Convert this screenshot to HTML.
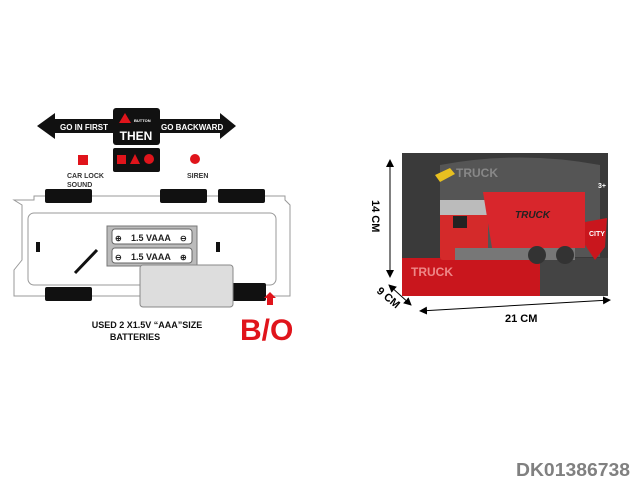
<!DOCTYPE html>
<html><head><style>body{margin:0;background:#fff}svg{display:block}text{font-family:"Liberation Sans",sans-serif;font-weight:bold}</style></head><body>
<svg width="640" height="480" viewBox="0 0 640 480">
<defs><marker id="a" markerWidth="8" markerHeight="8" refX="7" refY="4" orient="auto"><path d="M0,0L8,4L0,8z" fill="#000"/></marker>
<marker id="b" markerWidth="8" markerHeight="8" refX="1" refY="4" orient="auto"><path d="M8,0L0,4L8,8z" fill="#000"/></marker></defs>
<polygon points="37,126 55,113 55,119 220,119 220,113 236,126 220,139 220,133 55,133 55,139" fill="#111"/>
<text x="60" y="130" font-size="8" fill="#fff">GO IN FIRST</text>
<text x="161" y="130" font-size="8" fill="#fff">GO BACKWARD</text>
<rect x="113" y="108" width="47" height="37" rx="3" fill="#111"/>
<polygon points="125,113 131,123 119,123" fill="#e0141b"/>
<text x="134" y="122" font-size="4" fill="#fff">BUTTON</text>
<text x="136" y="140" font-size="12" fill="#fff" text-anchor="middle">THEN</text>
<rect x="113" y="148" width="47" height="24" rx="2" fill="#111"/>
<rect x="117" y="155" width="9" height="9" fill="#e0141b"/>
<polygon points="135,154 140,164 130,164" fill="#e0141b"/>
<circle cx="149" cy="159" r="5" fill="#e0141b"/>
<rect x="78" y="155" width="10" height="10" fill="#e0141b"/>
<circle cx="195" cy="159" r="5" fill="#e0141b"/>
<text x="67" y="178" font-size="7" fill="#333">CAR LOCK</text>
<text x="67" y="187" font-size="7" fill="#333">SOUND</text>
<text x="187" y="178" font-size="7" fill="#333">SIREN</text>
<path d="M14,200 L34,200 L34,196 L285,196 L285,200 L290,205 L290,296 L14,296 L14,270 L22,260 L22,205 Z" fill="#fff" stroke="#999" stroke-width="1"/>
<rect x="28" y="213" width="248" height="72" rx="6" fill="#fff" stroke="#999"/>
<rect x="45" y="189" width="47" height="14" rx="2" fill="#111"/>
<rect x="160" y="189" width="47" height="14" rx="2" fill="#111"/>
<rect x="218" y="189" width="47" height="14" rx="2" fill="#111"/>
<rect x="45" y="287" width="47" height="14" rx="2" fill="#111"/>
<rect x="232" y="283" width="34" height="18" rx="2" fill="#111"/>
<rect x="36" y="242" width="4" height="10" fill="#111"/><rect x="216" y="242" width="4" height="10" fill="#111"/>
<rect x="107" y="226" width="90" height="40" fill="#bbb" stroke="#777"/>
<rect x="112" y="229" width="80" height="15" rx="3" fill="#fff" stroke="#666"/>
<rect x="112" y="248" width="80" height="15" rx="3" fill="#fff" stroke="#666"/>
<text x="131" y="241" font-size="9" font-weight="normal" fill="#222">1.5  VAAA</text>
<text x="131" y="260" font-size="9" font-weight="normal" fill="#222">1.5  VAAA</text>
<text x="115" y="241" font-size="8" fill="#222">⊕</text><text x="180" y="241" font-size="8" fill="#222">⊖</text>
<text x="115" y="260" font-size="8" fill="#222">⊖</text><text x="180" y="260" font-size="8" fill="#222">⊕</text>
<line x1="75" y1="273" x2="97" y2="250" stroke="#111" stroke-width="3"/>
<rect x="140" y="265" width="93" height="42" rx="3" fill="#ddd" stroke="#888"/>
<polygon points="270,292 276,298 273,298 273,305 267,305 267,298 264,298" fill="#e0141b"/>
<text x="147" y="328" font-size="9" fill="#111" text-anchor="middle">USED 2 X1.5V “AAA”SIZE</text>
<text x="135" y="340" font-size="9" fill="#111" text-anchor="middle">BATTERIES</text>
<text x="240" y="340" font-size="30" fill="#e0141b">B/O</text>
<rect x="402" y="153" width="206" height="143" fill="#3a3a3a"/>
<path d="M440,165 Q520,150 600,165 L600,257 L440,257 Z" fill="#555"/>
<rect x="402" y="258" width="206" height="38" fill="#c9161d"/>
<rect x="540" y="258" width="68" height="38" fill="#444"/>
<text x="456" y="177" font-size="12" fill="#888">TRUCK</text>
<polygon points="435,175 450,168 455,174 440,182" fill="#e8c020"/>
<rect x="440" y="200" width="48" height="60" rx="3" fill="#d42a2a"/>
<rect x="440" y="200" width="48" height="15" fill="#bbb"/>
<rect x="453" y="216" width="14" height="12" fill="#222"/>
<polygon points="483,192 585,192 585,248 492,248" fill="#d8262c"/>
<text x="515" y="218" font-size="10" font-style="italic" fill="#222">TRUCK</text>
<rect x="455" y="248" width="120" height="12" fill="#777"/>
<circle cx="537" cy="255" r="9" fill="#333"/><circle cx="565" cy="255" r="9" fill="#333"/>
<polygon points="585,222 607,218 605,247 595,260 585,245" fill="#c9161d"/>
<text x="589" y="236" font-size="7" fill="#fff">CITY</text>
<text x="411" y="276" font-size="12" fill="#e88">TRUCK</text>
<text x="598" y="188" font-size="7" fill="#fff">3+</text>
<line x1="390" y1="160" x2="390" y2="277" stroke="#000" marker-end="url(#a)" marker-start="url(#b)"/>
<text transform="translate(372,200) rotate(90)" font-size="11" fill="#000">14 CM</text>
<line x1="389" y1="285" x2="411" y2="305" stroke="#000" marker-end="url(#a)" marker-start="url(#b)"/>
<text transform="translate(376,292) rotate(40)" font-size="11" fill="#000">9 CM</text>
<line x1="420" y1="311" x2="610" y2="300" stroke="#000" marker-end="url(#a)" marker-start="url(#b)"/>
<text x="505" y="322" font-size="11" fill="#000">21 CM</text>
<text x="516" y="476" font-size="18" font-weight="normal" fill="#808080" textLength="114" lengthAdjust="spacingAndGlyphs">DK01386738</text>
</svg></body></html>
